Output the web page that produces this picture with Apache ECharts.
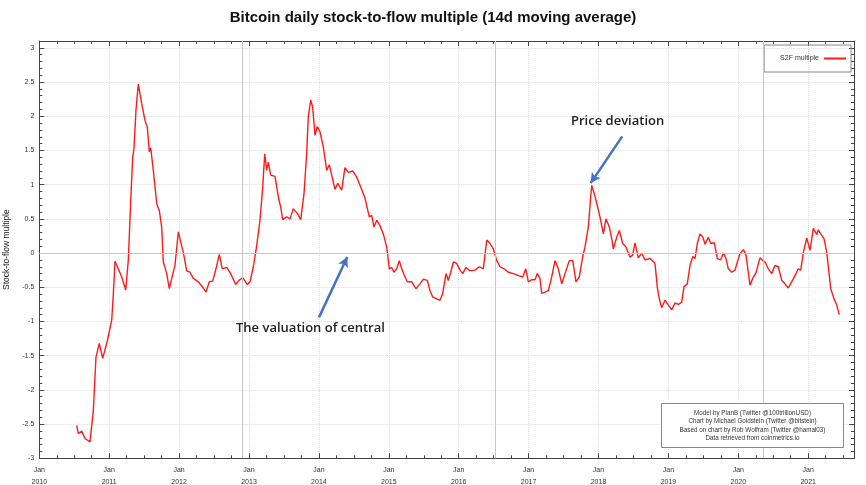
<!DOCTYPE html>
<html>
<head>
<meta charset="utf-8">
<script src="https://cdn.jsdelivr.net/npm/echarts@6/dist/echarts.min.js"></script>
<style>
html,body{margin:0;padding:0;background:#fff;}
#chart{width:866px;height:485px;}
</style>
</head>
<body>
<div id="chart"></div>
<script>
// Decimal year of each sample
const s2fTime = [
2010.535,2010.558,2010.607,2010.654,2010.725,2010.773,2010.811,2010.858,2010.907,2010.969,
2011.036,2011.059,2011.083,2011.130,2011.179,2011.236,2011.273,2011.308,2011.336,2011.355,
2011.383,2011.416,2011.465,2011.512,2011.545,2011.574,2011.594,2011.631,2011.680,2011.717,
2011.751,2011.774,2011.798,2011.823,2011.860,2011.894,2011.941,2011.989,2012.023,2012.060,
2012.109,2012.156,2012.203,2012.275,2012.338,2012.385,2012.432,2012.481,2012.528,2012.575,
2012.618,2012.681,2012.738,2012.810,2012.857,2012.910,2012.976,2013.014,2013.062,2013.110,
2013.157,2013.196,2013.225,2013.253,2013.276,2013.310,2013.372,2013.419,2013.454,2013.482,
2013.539,2013.587,2013.634,2013.691,2013.740,2013.787,2013.825,2013.848,2013.883,2013.911,
2013.944,2013.977,2014.016,2014.063,2014.112,2014.149,2014.183,2014.230,2014.269,2014.326,
2014.373,2014.421,2014.484,2014.541,2014.588,2014.660,2014.721,2014.755,2014.788,2014.827,
2014.874,2014.921,2014.970,2015.007,2015.041,2015.074,2015.113,2015.150,2015.185,2015.232,
2015.265,2015.328,2015.389,2015.446,2015.494,2015.551,2015.589,2015.628,2015.685,2015.732,
2015.771,2015.818,2015.851,2015.886,2015.923,2015.971,2016.019,2016.057,2016.104,2016.162,
2016.233,2016.295,2016.352,2016.401,2016.448,2016.495,2016.544,2016.591,2016.648,2016.710,
2016.781,2016.853,2016.916,2016.959,2016.996,2017.044,2017.092,2017.124,2017.163,2017.187,
2017.235,2017.282,2017.330,2017.378,2017.425,2017.474,2017.521,2017.582,2017.631,2017.678,
2017.725,2017.774,2017.807,2017.854,2017.888,2017.903,2017.950,2017.974,2018.021,2018.069,
2018.107,2018.155,2018.189,2018.212,2018.260,2018.298,2018.346,2018.393,2018.451,2018.489,
2018.522,2018.569,2018.618,2018.665,2018.737,2018.808,2018.841,2018.870,2018.904,2018.951,
2018.999,2019.047,2019.094,2019.142,2019.190,2019.223,2019.270,2019.309,2019.348,2019.381,
2019.413,2019.452,2019.491,2019.524,2019.571,2019.605,2019.657,2019.700,2019.748,2019.785,
2019.824,2019.857,2019.906,2019.953,2019.986,2020.024,2020.072,2020.110,2020.143,2020.167,
2020.206,2020.253,2020.286,2020.310,2020.349,2020.382,2020.429,2020.478,2020.525,2020.572,
2020.621,2020.668,2020.715,2020.764,2020.811,2020.858,2020.893,2020.930,2020.979,2021.026,
2021.073,2021.122,2021.144,2021.179,2021.226,2021.265,2021.288,2021.322,2021.369,2021.408,
2021.445
];
// S2F multiple (14d moving average)
const s2fValue = [
-2.52,-2.64,-2.60,-2.71,-2.76,-2.30,-1.52,-1.32,-1.54,-1.30,
-0.98,-0.60,-0.12,-0.23,-0.35,-0.54,-0.11,0.77,1.40,1.53,
2.09,2.47,2.18,1.94,1.84,1.48,1.54,1.21,0.72,0.62,
0.38,-0.13,-0.11,-0.30,-0.52,-0.37,-0.18,0.31,0.16,0.01,
-0.26,-0.28,-0.37,-0.42,-0.50,-0.57,-0.42,-0.41,-0.23,-0.02,
-0.23,-0.21,-0.30,-0.46,-0.40,-0.36,-0.46,-0.42,-0.20,0.11,
0.48,0.96,1.45,1.21,1.33,1.14,1.12,0.82,0.67,0.49,
0.53,0.50,0.65,0.58,0.49,0.87,1.45,1.99,2.24,2.13,
1.72,1.85,1.77,1.55,1.21,1.29,1.14,0.93,1.02,0.92,
1.25,1.18,1.20,1.11,0.99,0.80,0.53,0.55,0.38,0.48,
0.40,0.28,0.09,-0.23,-0.21,-0.28,-0.23,-0.11,-0.23,-0.35,
-0.42,-0.42,-0.52,-0.45,-0.38,-0.40,-0.55,-0.64,-0.67,-0.69,
-0.59,-0.30,-0.40,-0.28,-0.13,-0.15,-0.25,-0.30,-0.21,-0.26,
-0.25,-0.20,-0.23,0.19,0.14,0.06,-0.11,-0.20,-0.23,-0.28,
-0.30,-0.33,-0.35,-0.23,-0.42,-0.39,-0.39,-0.30,-0.37,-0.59,
-0.57,-0.55,-0.35,-0.11,-0.23,-0.45,-0.30,-0.11,-0.11,-0.42,
-0.35,-0.05,0.09,0.38,0.82,0.99,0.83,0.84,0.53,0.28,
0.50,0.38,0.21,0.06,0.23,0.33,0.14,0.09,-0.06,-0.03,
0.15,-0.07,0.00,-0.10,-0.08,-0.15,-0.50,-0.67,-0.80,-0.69,
-0.76,-0.83,-0.73,-0.75,-0.72,-0.49,-0.45,-0.18,-0.05,-0.08,
0.14,0.28,0.24,0.13,0.23,0.14,0.15,-0.08,-0.10,0.00,
-0.08,-0.23,-0.28,-0.25,-0.13,-0.01,0.05,-0.03,-0.28,-0.47,
-0.37,-0.29,-0.16,-0.07,-0.11,-0.13,-0.23,-0.30,-0.18,-0.20,
-0.40,-0.45,-0.51,-0.42,-0.33,-0.23,-0.25,0.01,0.22,0.04,
0.36,0.27,0.34,0.28,0.21,0.01,0.01,-0.52,-0.67,-0.76,
-0.90
];
// Halving dates (decimal year)
const halvings = [2012.907, 2016.52, 2020.36];
const creditLines = [
  'Model by PlanB (Twitter @100trillionUSD)',
  'Chart by Michael Goldstein (Twitter @bitstein)',
  'Based on chart by Rob Wolfram (Twitter @hamal03)',
  'Data retrieved from coinmetrics.io'
];
// Annotation arrows: [tailYear, tailValue, tipYear, tipValue]
const arrowPrice = [2018.340, 1.706, 2017.888, 1.023];
const arrowValuation = [2014.001, -0.94, 2014.406, -0.058];

const seriesData = s2fTime.map((t, i) => [t, s2fValue[i]]);

const chart = echarts.init(document.getElementById('chart'), null, {renderer: 'canvas'});
const FONT = '"Liberation Sans", Arial, sans-serif';
const axisCommon = {
  type: 'value',
  axisLine: {show: true, onZero: false, lineStyle: {color: '#444', width: 1}},
  axisTick: {show: true, inside: true, length: 5, lineStyle: {color: '#444'}},
  minorTick: {show: true, length: 3, lineStyle: {color: '#444'}},
};
const option = {
  animation: false,
  backgroundColor: '#fff',
  title: {
    text: 'Bitcoin daily stock-to-flow multiple (14d moving average)',
    left: 'center', top: 5,
    textStyle: {fontFamily: FONT, fontSize: 15, fontWeight: 'bold', color: '#111'}
  },
  legend: {
    right: 15, top: 45,
    orient: 'vertical',
    align: 'right',
    data: [{name: 'S2F multiple', icon: 'rect'}],
    itemWidth: 22, itemHeight: 2, itemGap: 6,
    padding: [10, 5, 10, 16],
    borderColor: '#888', borderWidth: 1,
    textStyle: {fontFamily: FONT, fontSize: 7, color: '#333'}
  },
  grid: {left: 39.3, right: 12, top: 41, bottom: 26.7, containLabel: false, outerBoundsMode: 'none'},
  xAxis: [
    Object.assign({}, axisCommon, {
      position: 'bottom', min: 2010, max: 2021.655, interval: 1,
      minorTick: {show: true, splitNumber: 4, length: 3, lineStyle: {color: '#444'}},
      axisLabel: {show: true, showMaxLabel: false, margin: 6, fontFamily: FONT, fontSize: 7, color: '#333', lineHeight: 12,
        formatter: v => 'Jan\n' + Math.round(v)},
      splitLine: {show: true, lineStyle: {color: '#dcdcdc', type: 'dotted', width: 1}}
    }),
    Object.assign({}, axisCommon, {
      position: 'top', min: 2010, max: 2021.655, interval: 1,
      minorTick: {show: true, splitNumber: 4, length: 3, lineStyle: {color: '#444'}},
      axisLabel: {show: false}, splitLine: {show: false}
    })
  ],
  yAxis: [
    Object.assign({}, axisCommon, {
      position: 'left', min: -3, max: 3.1, interval: 0.5,
      minorTick: {show: true, splitNumber: 5, length: 3, lineStyle: {color: '#444'}},
      name: 'Stock-to-flow multiple', nameLocation: 'middle', nameGap: 26, nameRotate: 90,
      nameTextStyle: {fontFamily: FONT, fontSize: 8.5, color: '#222'},
      axisLabel: {show: true, showMaxLabel: false, margin: 5, fontFamily: FONT, fontSize: 7, color: '#333'},
      splitLine: {show: true, lineStyle: {color: '#dcdcdc', type: 'dotted', width: 1}}
    }),
    Object.assign({}, axisCommon, {
      position: 'right', min: -3, max: 3.1, interval: 0.5,
      minorTick: {show: true, splitNumber: 5, length: 3, lineStyle: {color: '#444'}},
      axisLabel: {show: false}, splitLine: {show: false}
    })
  ],
  series: [
    {
      name: 'S2F multiple', type: 'line', data: seriesData,
      showSymbol: false, symbol: 'none',
      lineStyle: {color: '#ff1a1a', width: 1.4},
      itemStyle: {color: '#ff1a1a'},
      z: 3,
      markLine: {
        silent: true, symbol: 'none', label: {show: false},
        lineStyle: {color: '#c8c8c8', type: 'solid', width: 1},
        data: [{yAxis: 0}].concat(halvings.map(h => ({xAxis: h})))
      }
    },
    {
      name: 'annotations', type: 'line', data: [], z: 5,
      markLine: {
        silent: true, symbol: ['none', 'arrow'], symbolSize: [8, 10],
        label: {show: false},
        lineStyle: {color: '#4472c4', type: 'solid', width: 2.5},
        data: [
          [{coord: [arrowPrice[0], arrowPrice[1]]}, {coord: [arrowPrice[2], arrowPrice[3]]}],
          [{coord: [arrowValuation[0], arrowValuation[1]]}, {coord: [arrowValuation[2], arrowValuation[3]]}]
        ]
      }
    }
  ],
  graphic: [
    {type: 'text', left: 619 - 48, top: 115, z: 100, style: {text: 'Price deviation', fontFamily: '"Open Sans", "Noto Sans", sans-serif', fontSize: 13, fontWeight: 600, fill: '#222'}},
    {type: 'text', left: 236, top: 322, z: 100, style: {text: 'The valuation of central', fontFamily: '"Open Sans", "Noto Sans", sans-serif', fontSize: 13, fontWeight: 600, fill: '#222'}},
    {type: 'group', left: 661, top: 403, z: 100, children: [
      {type: 'rect', z: 100, shape: {x: 0, y: 0, width: 182, height: 44}, style: {fill: '#fff', stroke: '#888', lineWidth: 1}},
      {type: 'text', z: 101, style: {text: creditLines.join('\n'), x: 91, y: 5, align: 'center', fontFamily: FONT, fontSize: 6.3, lineHeight: 8.6, fill: '#333'}}
    ]}
  ]
};
chart.setOption(option);
</script>
</body>
</html>
